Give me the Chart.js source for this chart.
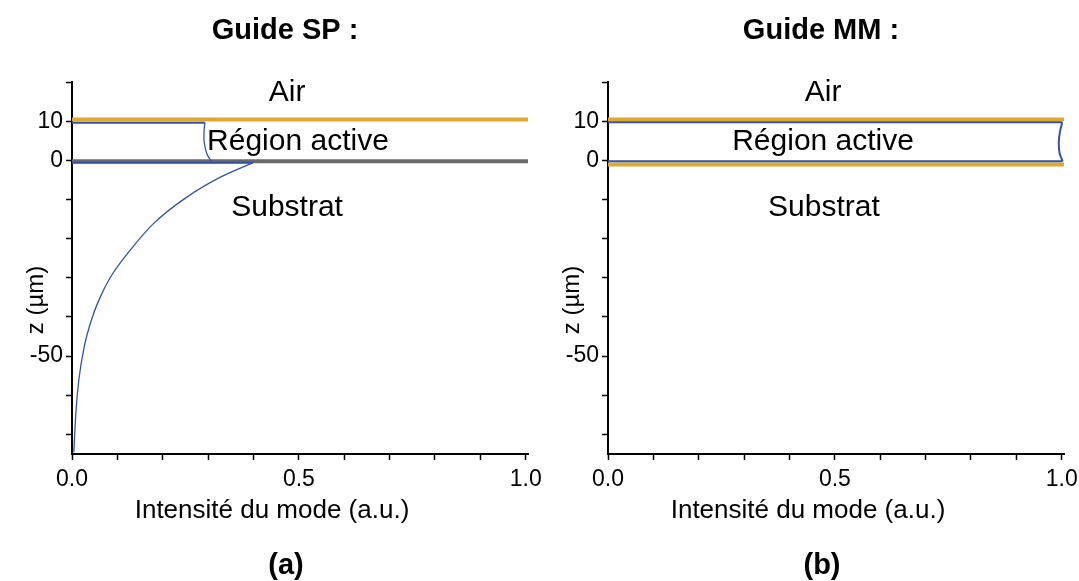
<!DOCTYPE html>
<html>
<head>
<meta charset="utf-8">
<script src="https://cdn.jsdelivr.net/npm/chart.js@4.4.1/dist/chart.umd.min.js"></script>
<style>
  html, body { margin: 0; padding: 0; background: #fff; }
  #wrap { position: relative; width: 1079px; height: 581px; overflow: hidden; }
  canvas { position: absolute; top: 0; }
</style>
</head>
<body>
<div id="wrap">
  <canvas id="chartA" width="560" height="581" style="left:0;width:560px;height:581px"></canvas>
  <canvas id="chartB" width="560" height="581" style="left:536px;width:560px;height:581px"></canvas>
</div>
<script>
// ---- axes ----
const X_TICKS = [0, 0.1, 0.2, 0.3, 0.4, 0.5, 0.6, 0.7, 0.8, 0.9, 1.0];
const X_LABELED = [0, 0.5, 1.0];
const Z_TICKS = [20, 10, 0, -10, -20, -30, -40, -50, -60, -70];
const Z_LABELED = [10, 0, -50];
const X_MIN = 0, X_MAX = 1.005, Z_MIN = -75, Z_MAX = 20;

// ---- panel (a) : Guide SP ----
const spAirLineX = [0, 1.005];
const spAirLineZ = [10.4, 10.4];
const spSubLineX = [0, 1.005];
const spSubLineZ = [-0.25, -0.25];
const spTopX = [0, 0.293];
const spTopZ = [9.6, 9.6];
const spActiveX = [0.293, 0.291, 0.291, 0.294, 0.299, 0.308];
const spActiveZ = [9.6, 7.5, 5, 3, 1.2, -0.3];
const spBottomX = [0, 0.399];
const spBottomZ = [-0.6, -0.6];
const spDecayX = [0.399, 0.327, 0.253, 0.180, 0.128, 0.084, 0.062, 0.045, 0.027, 0.015, 0.0085, 0.004];
const spDecayZ = [-0.6, -4.3, -9.4, -16.1, -23.0, -30.0, -35.0, -40.0, -47.6, -56.1, -64.5, -74.6];

// ---- panel (b) : Guide MM ----
const mmAirLineX = [0, 1.005];
const mmAirLineZ = [10.4, 10.4];
const mmSubLineX = [0, 1.005];
const mmSubLineZ = [-1.1, -1.1];
const mmTopX = [0, 1.001];
const mmTopZ = [9.7, 9.7];
const mmEdgeX = [1.001, 0.996, 0.9935, 0.995, 1.002];
const mmEdgeZ = [9.7, 7.2, 4.6, 2.0, -0.25];
const mmBottomX = [0, 1.002];
const mmBottomZ = [-0.25, -0.25];

const LAYER_NAMES = ["Air", "Région active", "Substrat"];
const X_TITLE = "Intensité du mode (a.u.)";
const Z_TITLE = "z (µm)";

const FONT = '"Liberation Sans", Arial, sans-serif';
const BLUE = "#3353a8";
const GOLD = "#e0a82e";
const GREY = "#6a6a6a";

function pts(xs, zs) {
  return xs.map((x, i) => ({ x, y: zs[i] }));
}

function line(xs, zs, color, width, smooth) {
  const ds = {
    data: pts(xs, zs),
    showLine: true,
    borderColor: color,
    borderWidth: width,
    pointRadius: 0,
    tension: 0,
    fill: false,
    clip: false,
  };
  if (smooth === "mono") ds.cubicInterpolationMode = "monotone";
  else if (smooth) ds.tension = smooth;
  return ds;
}

const panelTextPlugin = {
  id: "panelText",
  afterDraw(chart, args, opts) {
    const ctx = chart.ctx;
    const xs = chart.scales.x;
    const ys = chart.scales.y;
    ctx.save();
    ctx.fillStyle = "#000";
    ctx.textAlign = "center";
    ctx.textBaseline = "middle";

    ctx.font = "bold 29px " + FONT;
    ctx.fillText(opts.title, 285, 31);
    ctx.fillText(opts.tag, 286, 566);

    ctx.font = "30px " + FONT;
    opts.layers.forEach((l) => {
      ctx.fillText(l.text, xs.getPixelForValue(l.x), ys.getPixelForValue(l.z));
    });

    ctx.font = "26px " + FONT;
    ctx.fillText(X_TITLE, 272, 511);
    ctx.font = "24px " + FONT;
    ctx.translate(36, 300);
    ctx.rotate(-Math.PI / 2);
    ctx.fillText(Z_TITLE, 0, 0);
    ctx.restore();
  },
};

function makeChart(id, datasets, textOpts) {
  return new Chart(document.getElementById(id), {
    type: "scatter",
    data: { datasets },
    plugins: [panelTextPlugin],
    options: {
      responsive: false,
      animation: false,
      layout: { padding: { left: 0, right: 32, top: 82, bottom: 0 } },
      plugins: {
        legend: { display: false },
        tooltip: { enabled: false },
        panelText: textOpts,
      },
      scales: {
        x: {
          type: "linear",
          min: X_MIN,
          max: X_MAX,
          afterBuildTicks: (s) => { s.ticks = X_TICKS.map((v) => ({ value: v })); },
          afterFit: (s) => { s.height = 127; },
          ticks: {
            autoSkip: false,
            maxRotation: 0,
            color: "#000",
            font: { family: FONT, size: 23 },
            padding: 6,
            callback: (v) => (X_LABELED.some((l) => Math.abs(l - v) < 1e-6) ? v.toFixed(1) : ""),
          },
          grid: { drawOnChartArea: false, drawTicks: true, tickLength: 6, color: "#000", tickWidth: 1.5 },
          border: { display: true, color: "#000", width: 2 },
        },
        y: {
          type: "linear",
          min: Z_MIN,
          max: Z_MAX,
          afterBuildTicks: (s) => { s.ticks = Z_TICKS.map((v) => ({ value: v })); },
          afterFit: (s) => { s.width = 72; },
          ticks: {
            autoSkip: false,
            color: "#000",
            font: { family: FONT, size: 23 },
            padding: 3,
            callback: (v) => (Z_LABELED.includes(v) ? String(v) : ""),
          },
          grid: { drawOnChartArea: false, drawTicks: true, tickLength: 6, color: "#000", tickWidth: 1.5 },
          border: { display: true, color: "#000", width: 2 },
        },
      },
    },
  });
}

makeChart(
  "chartA",
  [
    line(spTopX, spTopZ, BLUE, 2),
    line(spActiveX, spActiveZ, BLUE, 1.3, 0.4),
    line(spBottomX, spBottomZ, BLUE, 2.2),
    line(spDecayX, spDecayZ, BLUE, 1.3, "mono"),
    line(spAirLineX, spAirLineZ, GOLD, 4),
    line(spSubLineX, spSubLineZ, GREY, 4),
  ],
  {
    title: "Guide SP :",
    tag: "(a)",
    layers: [
      { text: LAYER_NAMES[0], x: 0.474, z: 17.3 },
      { text: LAYER_NAMES[1], x: 0.498, z: 4.8 },
      { text: LAYER_NAMES[2], x: 0.474, z: -12.2 },
    ],
  }
);

makeChart(
  "chartB",
  [
    line(mmTopX, mmTopZ, BLUE, 2),
    line(mmEdgeX, mmEdgeZ, BLUE, 2, 0.4),
    line(mmBottomX, mmBottomZ, BLUE, 2),
    line(mmAirLineX, mmAirLineZ, GOLD, 4),
    line(mmSubLineX, mmSubLineZ, GOLD, 4),
  ],
  {
    title: "Guide MM :",
    tag: "(b)",
    layers: [
      { text: LAYER_NAMES[0], x: 0.474, z: 17.3 },
      { text: LAYER_NAMES[1], x: 0.474, z: 4.8 },
      { text: LAYER_NAMES[2], x: 0.476, z: -12.2 },
    ],
  }
);
</script>
</body>
</html>
